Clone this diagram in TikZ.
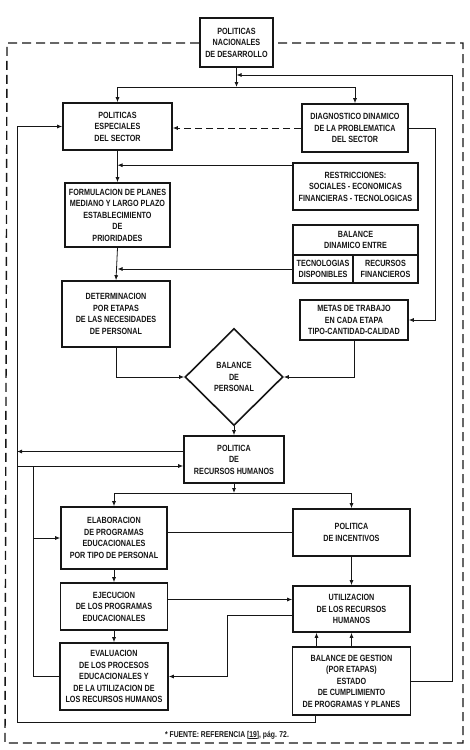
\documentclass[tikz,border=0pt]{standalone}
\usepackage{fontspec}
\setmainfont{Liberation Sans}[FakeStretch=0.8]
\usetikzlibrary{positioning,arrows.meta,shapes.geometric,calc}
\definecolor{FlowInk}{RGB}{22,22,22}
\newcommand{\flowfont}{\fontsize{9}{11.5}\selectfont\bfseries}
\tikzset{
  flow box/.style={
    draw=FlowInk,
    line width=1.6pt,
    align=center,
    font=\flowfont,
    text=FlowInk,
    inner sep=2pt
  },
  flow cell/.style={flow box, outer sep=0pt},
  flow gate/.style={flow box, shape=diamond, aspect=1, inner sep=0pt, minimum width=98pt, minimum height=97pt},
  flow arrow/.style={-{Latex[length=5pt,width=4pt]}, line width=0.8pt, draw=FlowInk},
  flow line/.style={line width=0.8pt, draw=FlowInk},
  flow dash/.style={flow arrow, dash pattern=on 7pt off 4pt},
  flow frame/.style={line width=1.4pt, draw=FlowInk, dash pattern=on 9pt off 5pt},
  flow note/.style={font=\fontsize{8.5}{10}\selectfont\bfseries, text=FlowInk}
}

\begin{document}
\begin{tikzpicture}[x=1pt,y=-1pt]
\useasboundingbox (0,0) rectangle (469,750);
\node[flow box, minimum width=73pt, minimum height=49pt] (nac) at (236.5,42.5) {POLITICAS\\NACIONALES\\DE DESARROLLO};
\node[flow box, minimum width=109pt, minimum height=47pt] (esp) at (117.5,126.5) {POLITICAS\\ESPECIALES\\DEL SECTOR};
\node[flow box, minimum width=106pt, minimum height=48pt] (diag) at (355,128) {DIAGNOSTICO DINAMICO\\DE LA PROBLEMATICA\\DEL SECTOR};
\node[flow box, minimum width=125pt, minimum height=47pt] (restr) at (355.5,186.5) {RESTRICCIONES:\\SOCIALES - ECONOMICAS\\FINANCIERAS - TECNOLOGICAS};
\node[flow box, minimum width=105pt, minimum height=64pt] (form) at (117.5,215) {FORMULACION DE PLANES\\MEDIANO Y LARGO PLAZO\\ESTABLECIMIENTO\\DE\\PRIORIDADES};
\node[flow cell, minimum width=125pt, minimum height=30pt] (balH) at (355.5,240) {BALANCE\\DINAMICO ENTRE};
\node[flow cell, minimum width=60pt, minimum height=28pt, anchor=north west] (balL) at (balH.south west) {TECNOLOGIAS\\DISPONIBLES};
\node[flow cell, minimum width=65pt, minimum height=28pt, anchor=north east] (balR) at (balH.south east) {RECURSOS\\FINANCIEROS};
\node[flow box, minimum width=108pt, minimum height=66pt] (det) at (116,314) {DETERMINACION\\POR ETAPAS\\DE LAS NECESIDADES\\DE PERSONAL};
\node[flow box, minimum width=108pt, minimum height=40pt] (metas) at (354,320) {METAS DE TRABAJO\\EN CADA ETAPA\\TIPO-CANTIDAD-CALIDAD};
\node[flow gate] (bp) at (234,377) {BALANCE\\DE\\PERSONAL};
\node[flow box, minimum width=100pt, minimum height=47pt] (rrhh) at (234,459.5) {POLITICA\\DE\\RECURSOS HUMANOS};
\node[flow box, minimum width=106pt, minimum height=62pt] (elab) at (114,538) {ELABORACION\\DE PROGRAMAS\\EDUCACIONALES\\POR TIPO DE PERSONAL};
\node[flow box, minimum width=117pt, minimum height=47pt] (incent) at (351.5,532.5) {POLITICA\\DE INCENTIVOS};
\node[flow box, minimum width=107pt, minimum height=47pt] (ejec) at (114,606.5) {EJECUCION\\DE LOS PROGRAMAS\\EDUCACIONALES};
\node[flow box, minimum width=117pt, minimum height=46pt] (util) at (351.5,609) {UTILIZACION\\DE LOS RECURSOS\\HUMANOS};
\node[flow box, minimum width=108pt, minimum height=67pt] (eval) at (114,676.5) {EVALUACION\\DE LOS PROCESOS\\EDUCACIONALES Y\\DE LA UTILIZACION DE\\LOS RECURSOS HUMANOS};
\node[flow box, minimum width=118pt, minimum height=68pt] (gest) at (351.5,681) {BALANCE DE GESTION\\(POR ETAPAS)\\ESTADO\\DE CUMPLIMIENTO\\DE PROGRAMAS Y PLANES};
\node[flow note] (fuente) at (227,735) {* FUENTE: REFERENCIA [\underline{19}], pág. 72.};

\coordinate (splitT) at (236.5,87);
\coordinate (backT) at (452,75);
\coordinate (r1) at ([yshift=-3pt]restr.north west);
\coordinate (splitB) at (234,493);
\coordinate (railL) at (17,722);
\coordinate (railI) at (33,466);
\coordinate (r2) at ([yshift=8pt]rrhh.west);
\coordinate (r3) at (rrhh.west |- railI);
\coordinate (e1) at ([yshift=7pt]ejec.east);
\coordinate (u1) at ([yshift=-6pt]util.west);

\draw[flow frame] (nac.west |- 0,43) -- (7,43) -- (5,743) -- (463,743) -- (463,43) -- (nac.east |- 0,43);
\draw[flow arrow] (nac.south) -- (splitT);
\draw[flow arrow] (splitT) -| (esp.north);
\draw[flow arrow] (splitT) -| (diag.north);
\draw[flow arrow] (gest.east) -| (backT) -- (backT -| nac.south);
\draw[flow dash] (diag.west) -- (diag.west -| esp.east);
\draw[flow arrow] (diag.east) -- ++(27,0) |- (metas.east);
\draw[flow arrow] (esp.south) -- (form.north);
\draw[flow arrow] (r1) -- (r1 -| esp.south);
\draw[flow arrow] (form.south) -- (det.north);
\draw[flow arrow] (balL.west) -- (balL.west -| form.south);
\draw[flow arrow] (det.south) |- (bp.west);
\draw[flow arrow] (metas.south) |- (bp.east);
\draw[flow arrow] (bp.south) -- (rrhh.north);
\draw[flow arrow] (rrhh.south) -- (splitB);
\draw[flow arrow] (splitB) -| (elab.north);
\draw[flow arrow] (splitB) -| (incent.north);
\draw[flow line] (incent.west) -- (incent.west -| elab.east);
\draw[flow arrow] (incent.south) -- (util.north);
\draw[flow arrow] (elab.south) -- (ejec.north);
\draw[flow arrow] (ejec.south) -- (eval.north);
\draw[flow arrow] (e1) -- (e1 -| util.west);
\draw[flow arrow] (u1) -- ++(-65,0) |- (eval.east);
\draw[flow arrow] ([xshift=-35pt]gest.north) -- ([xshift=-35pt]gest.north |- util.south);
\draw[flow arrow] (gest.north) -- (util.south);
\draw[flow arrow] ([xshift=-36pt]gest.south) |- (railL) |- (esp.west);
\draw[flow arrow] (r2) -- (r2 -| railL);
\draw[flow arrow] (r3 -| railL) -- (r3);
\draw[flow line] (eval.west) -| (railI);
\draw[flow arrow] (railI |- elab.west) -- (elab.west);
\end{tikzpicture}
\end{document}
